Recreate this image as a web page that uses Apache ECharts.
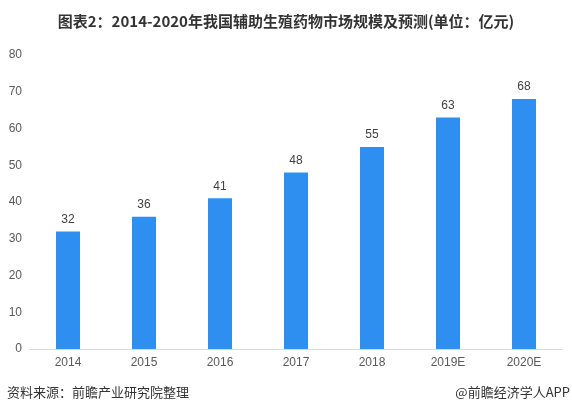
<!DOCTYPE html>
<html><head><meta charset="utf-8">
<script src="https://cdn.jsdelivr.net/npm/echarts@6/dist/echarts.min.js"></script>
<style>html,body{margin:0;padding:0;background:#fff}#c{width:572px;height:415px}</style>
</head><body><div id="c"></div>
<script>
const categories = ['2014','2015','2016','2017','2018','2019E','2020E'];
const values = [32,36,41,48,55,63,68];
const yTicks = [0,10,20,30,40,50,60,70,80];
const titleText = '图表2：2014-2020年我国辅助生殖药物市场规模及预测(单位：亿元)';
const sourceText = '资料来源：前瞻产业研究院整理';
const brandText = '@前瞻经济学人APP';

const chart = echarts.init(document.getElementById('c'));
chart.setOption({
  animation:false,
  title:{text:titleText,left:'center',top:9,textStyle:{fontSize:15,fontWeight:'bold',color:'#333',fontFamily:'Noto Sans CJK SC'}},
  graphic:[
    {type:'text',left:7,top:386,style:{text:sourceText,fontSize:13,fill:'#333',fontFamily:'Noto Sans CJK SC'}},
    {type:'text',right:2,top:386,style:{text:brandText,fontSize:13,fill:'#333',fontFamily:'Noto Sans CJK SC'}}
  ],
  grid:{left:30,right:10,top:55,bottom:66,containLabel:false},
  xAxis:{type:'category',data:categories,
    axisLine:{lineStyle:{color:'#d9d9d9'}},axisTick:{show:false},
    axisLabel:{color:'#595959',fontSize:12,margin:8,fontFamily:'Liberation Sans'}},
  yAxis:{type:'value',min:yTicks[0],max:yTicks[yTicks.length-1],interval:10,
    axisLine:{show:false},axisTick:{show:false},splitLine:{show:false},
    axisLabel:{color:'#595959',fontSize:12,margin:8,fontFamily:'Liberation Sans'}},
  series:[{type:'bar',data:values,barWidth:24,itemStyle:{color:'#2f8ff0'},
    label:{show:true,position:'top',color:'#404040',fontSize:12,distance:6,fontFamily:'Liberation Sans'}}]
});
</script></body></html>
